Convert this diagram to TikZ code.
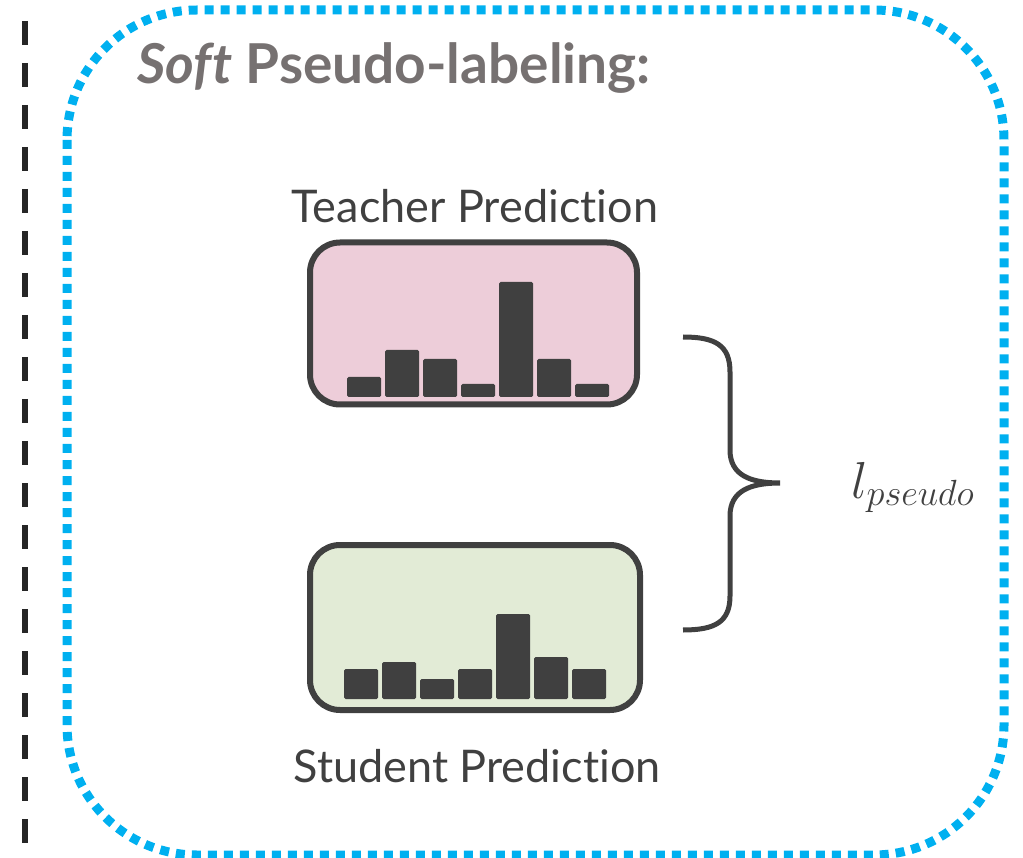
\RequirePackage{fix-cm}
\documentclass[tikz,border=0pt]{standalone}
\usepackage{amsmath}
\usepackage{fontspec}
\setmainfont[Ligatures=NoCommon]{Lato}
\usepackage{tikz}
\usetikzlibrary{calc}
\usepackage{xcolor}
\definecolor{inkgray}{HTML}{404040}
\definecolor{titlegray}{HTML}{767171}
\definecolor{softblue}{HTML}{00B0F0}
\definecolor{teacherpink}{HTML}{EDCDD9}
\definecolor{studentgreen}{HTML}{E2EBD6}

\begin{document}
\begin{tikzpicture}[x=1pt,y=-1pt,
  predbox/.style={draw=inkgray,line width=6pt,rounded corners=30pt,minimum width=327pt,minimum height=162pt,inner sep=0pt},
  bar/.style={fill=inkgray,rounded corners=1.5pt},
  predlabel/.style={text=inkgray,font=\fontsize{45}{52}\selectfont,anchor=base}]
  \useasboundingbox (0,0) rectangle (1023,858);
  % separator and frame
  \draw[black!85,line width=5.5pt,dash pattern=on 24pt off 18pt] (25,21) -- (25,843);
  \draw[softblue,line width=9pt,dash pattern=on 9pt off 7pt,rounded corners=130pt] (67,10) rectangle (1004,855);
  \node[anchor=base west,text=titlegray,font=\fontsize{55}{62}\selectfont\bfseries] (title) at (134,84) {\textit{Soft} Pseudo-labeling:};

  \node[predlabel] (teacherlabel) at (475,223) {Teacher Prediction};
  \node[predbox,fill=teacherpink] (teacher) at (473.5,323.5) {};
  \foreach \h [count=\i from 0] in {20,47,38,13,115,38,13}
    \path[bar] (347+38*\i,397) rectangle ++(34,-\h);

  \node[predbox,fill=studentgreen,minimum width=330pt,minimum height=165pt] (student) at (475,627.5) {};
  \foreach \h [count=\i from 0] in {30,37,20,30,85,42,30}
    \path[bar] (344+38*\i,699) rectangle ++(34,-\h);
  \node[predlabel] (studentlabel) at (477,782) {Student Prediction};

  % brace
  \coordinate (bracetop) at (683,337);
  \coordinate (bracetip) at (780,483);
  \coordinate (bracebot) at (683,630);
  \draw[inkgray,line width=5pt] (bracetop) .. controls (715,337) and (730,345) .. (730,372) -- (730,450)
    .. controls (730,475) and (750,483) .. (bracetip)
    .. controls (750,483) and (730,491) .. (730,516) -- (730,596)
    .. controls (730,622) and (715,630) .. (bracebot);
  \node[anchor=base west,text=inkgray,font=\fontsize{52}{60}\selectfont] (loss) at (848,498) {$l_{pseudo}$};
\end{tikzpicture}
\end{document}
